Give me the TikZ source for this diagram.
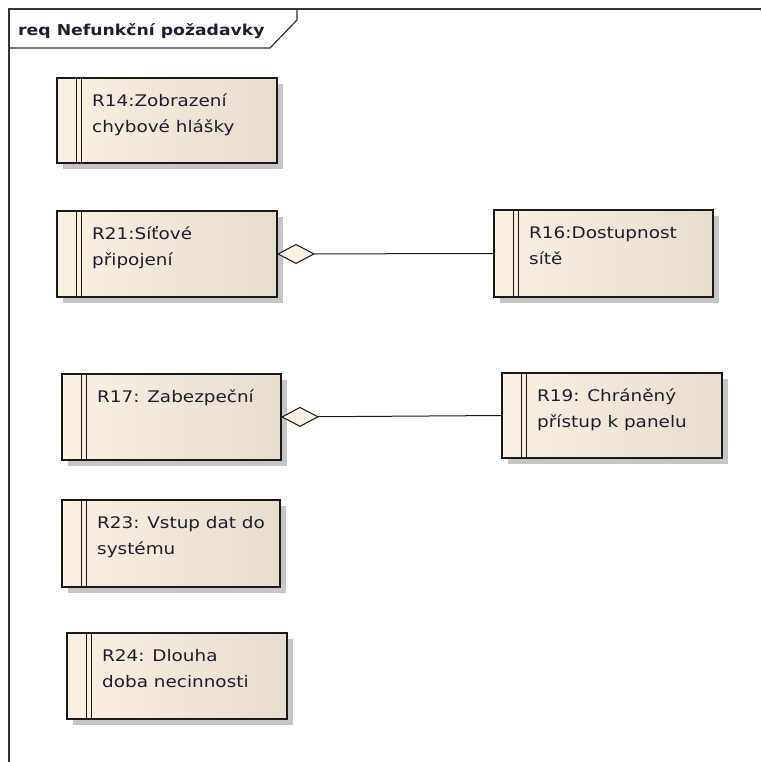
\documentclass[tikz,border=0pt]{standalone}
\usepackage{fontspec}
\usetikzlibrary{arrows.meta}
\newfontfamily\reqfont[FakeStretch=1.15]{DejaVu Sans}
\definecolor{reqleft}{HTML}{FBF1E3}
\definecolor{reqright}{HTML}{E7DDCF}
\definecolor{reqshadow}{HTML}{C6C6C6}
\definecolor{reqink}{HTML}{1E1E32}

% requirement box: name, left, top, width, height, text
\newcommand{\reqbox}[6]{%
  \fill[reqshadow] (#2+6,#3+6) rectangle ++(#4,#5);
  \node[reqbox, minimum width=#4pt, minimum height=#5pt] (#1) at (#2,#3) {};
  \draw[reqbar] ([xshift=19pt]#1.north west) -- ([xshift=19pt]#1.south west);
  \draw[reqbar] ([xshift=24pt]#1.north west) -- ([xshift=24pt]#1.south west);
  \node[reqtext] (#1-txt) at ([shift={(35,12)}]#1.north west) {\rule{0pt}{16pt}#6};
}

\begin{document}
\begin{tikzpicture}[x=1pt, y=-1pt,
  reqbox/.style={draw=black!90, line width=1.3pt, left color=reqleft, right color=reqright,
    inner sep=0pt, outer sep=0pt, anchor=north west},
  reqbar/.style={line width=1pt, black!90},
  reqtext/.style={anchor=north west, inner sep=0pt, align=left, text=reqink,
    font=\reqfont\fontsize{16}{26}\selectfont},
  reqtitle/.style={anchor=north west, inner sep=0pt, text=reqink,
    font=\reqfont\bfseries\fontsize{15}{18}\selectfont},
  frame/.style={line width=1.2pt, black!80},
  aggr/.style={{Diamond[length=38pt, width=20pt, fill=reqleft, line width=1pt]}-, line width=1pt, black!90}]
  \useasboundingbox (0,0) rectangle (761,762);
  % ramec diagramu
  \draw[frame] (761,9) -- (9,9) -- (9,762);
  \draw[frame] (9,48) -- (270,48) -- (297,20) -- (297,9);
  \node[reqtitle] (title) at (18,19) {\rule{0pt}{16pt}req Nefunkční požadavky};
  % pozadavky
  \reqbox{r14}{57}{78}{220}{85}{R14:Zobrazení\\chybové hlášky}
  \reqbox{r21}{57}{211}{220}{86}{R21:Síťové\\připojení}
  \reqbox{r16}{494}{210}{219}{87}{R16:Dostupnost\\sítě}
  \reqbox{r17}{62}{374}{219}{86}{R17: Zabezpeční}
  \reqbox{r19}{502}{373}{220}{85}{R19: Chráněný\\přístup k panelu}
  \reqbox{r23}{62}{500}{218}{87}{R23: Vstup dat do\\systému}
  \reqbox{r24}{67}{633}{220}{86}{R24: Dlouha\\doba necinnosti}
  % agregace
  \draw[aggr] (r21.east) -- (r16.west);
  \draw[aggr] (r17.east) -- (r19.west);
\end{tikzpicture}
\end{document}
